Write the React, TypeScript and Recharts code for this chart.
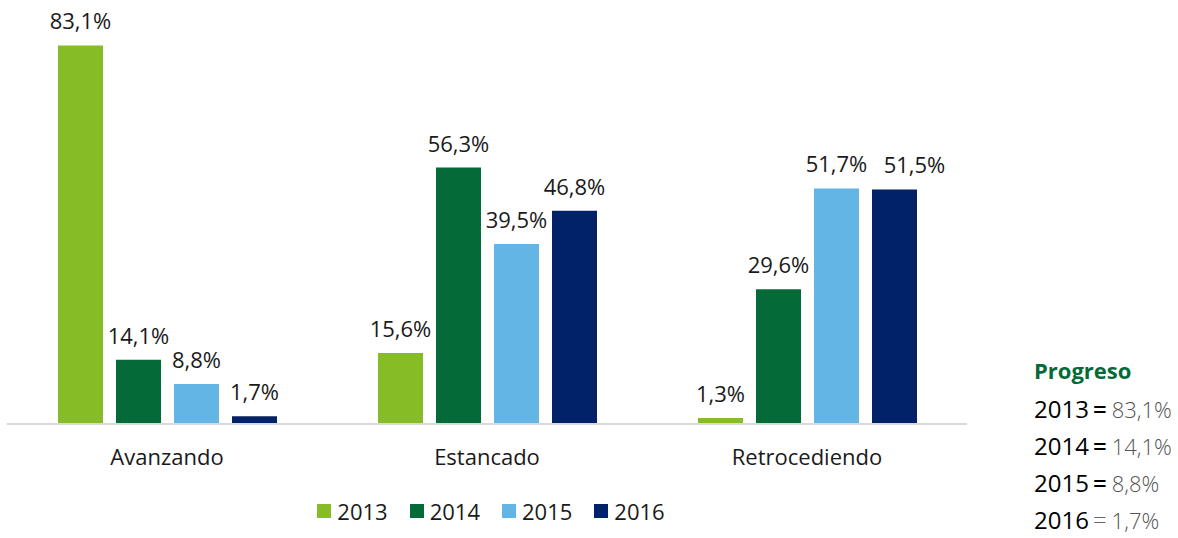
import React from 'react';
import { BarChart, Bar, XAxis, YAxis, Legend, LabelList } from 'recharts';

const categories = ['Avanzando', 'Estancado', 'Retrocediendo'];
const years = ['2013', '2014', '2015', '2016'];
const values2013 = [83.1, 15.6, 1.3];
const values2014 = [14.1, 56.3, 29.6];
const values2015 = [8.8, 39.5, 51.7];
const values2016 = [1.7, 46.8, 51.5];

const progressLabel = 'Progreso';
const progressValues = ['83,1%', '14,1%', '8,8%', '1,7%'];

const COLORS = ['#86bc25', '#046a38', '#62b5e5', '#012169'];
const FONT = '"Open Sans", sans-serif';

const chartData = categories.map((name, i) => ({
  name,
  y2013: values2013[i],
  y2014: values2014[i],
  y2015: values2015[i],
  y2016: values2016[i],
}));

const formatPct = (v: any) => `${Number(v).toFixed(1).replace('.', ',')}%`;

// labels sit above the bar; the last one in Retrocediendo is nudged right so it doesn't collide
const makeLabel = (seriesIndex: number) => (props: any) => {
  const { x, y, width, value, index } = props;
  const nudge = seriesIndex === 3 && index === 2 ? 20 : 0;
  return (
    <text
      x={Number(x) + Number(width) / 2 + nudge}
      y={Number(y) - 16}
      textAnchor="middle"
      fontSize={22}
      fill="#1a1a1a"
      fontFamily={FONT}
    >
      {formatPct(value)}
    </text>
  );
};

const renderLegend = () => (
  <div style={{ height: 54, display: 'flex', justifyContent: 'center', alignItems: 'center', fontFamily: FONT, fontSize: 22, color: '#1a1a1a' }}>
    {years.map((y, i) => (
      <div key={y} style={{ display: 'flex', alignItems: 'center', marginLeft: i === 0 ? 0 : 22 }}>
        <span style={{ width: 14, height: 14, background: COLORS[i], display: 'inline-block', marginRight: 6 }} />
        <span>{y}</span>
      </div>
    ))}
  </div>
);

export default function App() {
  const series = ['y2013', 'y2014', 'y2015', 'y2016'];
  return (
    <div style={{ position: 'absolute', left: 0, top: 0, width: 1178, height: 538, background: '#fff', fontFamily: FONT }}>
      <BarChart
        width={1178}
        height={538}
        data={chartData}
        margin={{ top: 14, right: 211, left: 7, bottom: 0 }}
        barSize={45}
        barGap={13}
      >
        <XAxis
          dataKey="name"
          height={60}
          tickLine={false}
          tickMargin={19}
          axisLine={{ stroke: '#d9d9d9', strokeWidth: 2 }}
          tick={{ fontSize: 22, fill: '#1a1a1a', fontFamily: FONT }}
        />
        <YAxis hide domain={[0, 90]} />
        <Legend verticalAlign="bottom" content={renderLegend} wrapperStyle={{ left: 11, width: 960 }} />
        {series.map((key, i) => (
          <Bar key={key} dataKey={key} name={years[i]} fill={COLORS[i]} isAnimationActive={false}>
            <LabelList dataKey={key} content={makeLabel(i)} />
          </Bar>
        ))}
      </BarChart>
      <div style={{ position: 'absolute', left: 1034, top: 350, fontFamily: FONT, whiteSpace: 'nowrap' }}>
        <div style={{ fontSize: 22, fontWeight: 700, color: '#046a38', height: 40, lineHeight: '40px' }}>{progressLabel}</div>
        {years.map((y, i) => (
          <div key={y} style={{ height: 37, lineHeight: '37px', color: '#000' }}>
            <span style={{ fontSize: 24, fontWeight: 400 }}>{y}</span>
            <span style={{ fontSize: 24, marginLeft: 4, color: i === 3 ? '#666' : '#000', fontWeight: i === 3 ? 300 : 600 }}>=</span>
            <span style={{ fontSize: 22, marginLeft: 5, color: '#555', fontWeight: 300 }}>{progressValues[i]}</span>
          </div>
        ))}
      </div>
    </div>
  );
}
